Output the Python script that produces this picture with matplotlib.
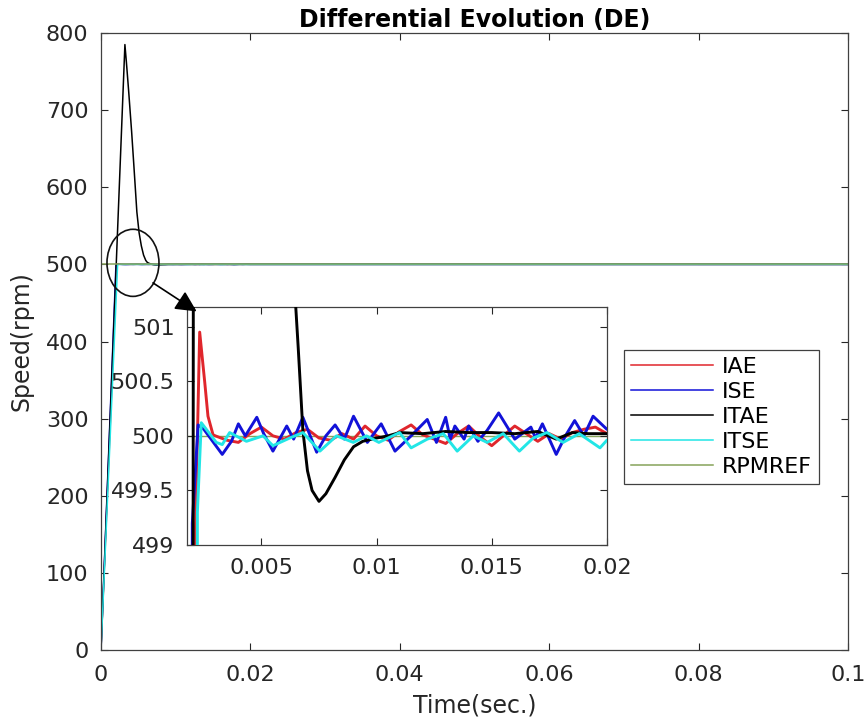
import matplotlib
matplotlib.use("Agg")
import matplotlib.pyplot as plt
from matplotlib.patches import Ellipse, FancyArrowPatch

plt.rcParams['font.family'] = ['DejaVu Sans']

# ---------------- data ----------------
iae_t = [0, 0.00212, 0.00232, 0.00254, 0.00268, 0.0029,
         0.0030, 0.0035, 0.0040, 0.0045, 0.0050, 0.0055, 0.0060, 0.0065, 0.0070,
         0.0075, 0.0080, 0.0085, 0.0090, 0.0095, 0.0100, 0.0105, 0.0110, 0.0115,
         0.0120, 0.0125, 0.0130, 0.0135, 0.0140, 0.0145, 0.0150, 0.0155, 0.0160,
         0.0165, 0.0170, 0.0175, 0.0180, 0.0185, 0.0190, 0.0195, 0.0200, 0.1]
iae_v = [0, 499.0, 500.95, 500.49, 500.18, 500.01,
         500.00, 499.96, 499.94, 500.02, 500.08, 500.00, 499.97, 500.03, 500.06,
         499.98, 499.96, 500.02, 499.97, 500.09, 500.00, 499.96, 500.04, 500.10,
         500.01, 499.97, 499.93, 500.02, 500.09, 499.99, 499.91, 500.00, 500.09,
         500.02, 499.95, 500.02, 499.97, 500.03, 500.06, 500.08, 500.02, 500.0]

ise_t = [0, 0.00200, 0.00225, 0.0025, 0.0033, 0.0037, 0.0040, 0.0043, 0.0048,
         0.0051, 0.0055, 0.0061, 0.0064, 0.0068, 0.0074, 0.0078, 0.0082, 0.0086,
         0.0090, 0.0096, 0.0102, 0.0108, 0.0115, 0.0122, 0.0126, 0.0130, 0.0132,
         0.0134, 0.0138, 0.0140, 0.0144, 0.0148, 0.0153, 0.0160, 0.0167, 0.0169,
         0.0172, 0.0178, 0.0182, 0.0186, 0.0190, 0.0194, 0.0200, 0.1]
ise_v = [0, 499.2, 500.10, 500.06, 499.83, 499.95, 500.11, 500.00, 500.17,
         500.02, 499.86, 500.09, 499.97, 500.17, 499.85, 500.00, 500.10, 499.97,
         500.18, 499.94, 500.11, 499.86, 500.00, 500.15, 499.94, 500.17, 499.97,
         500.09, 499.97, 500.09, 499.95, 500.05, 500.21, 499.97, 500.08, 499.98,
         500.11, 499.83, 500.00, 500.14, 500.00, 500.18, 500.06, 500.0]

itae_t = [0, 0.0032, 0.0034, 0.0037, 0.0041, 0.0044, 0.0048, 0.0051, 0.0054,
          0.0057, 0.0060, 0.0062, 0.0064, 0.0066, 0.0068, 0.0070, 0.0072, 0.0075,
          0.0078, 0.0082, 0.0086, 0.0090, 0.0094, 0.0100, 0.0105, 0.0110, 0.0120,
          0.0130, 0.0140, 0.0150, 0.0160, 0.0170, 0.0178, 0.0185, 0.0192, 0.0200, 0.1]
itae_v = [0, 785, 762, 725, 672, 628, 568, 541, 524,
          512, 505, 502.6, 501.5, 500.8, 500.05, 499.68, 499.50, 499.40,
          499.47, 499.62, 499.78, 499.90, 499.95, 499.98, 500.00, 500.03, 500.02,
          500.04, 500.03, 500.03, 500.02, 500.04, 499.97, 500.03, 500.02, 500.02, 500.0]

itse_t = [0, 0.00222, 0.00239, 0.00304, 0.0033, 0.00362, 0.00435, 0.00507,
          0.0055, 0.00623, 0.0068, 0.00754, 0.00826, 0.00899, 0.00956, 0.0101,
          0.0110, 0.0115, 0.0122, 0.0129, 0.0135, 0.0142, 0.0148, 0.0155, 0.0162,
          0.0168, 0.0174, 0.0181, 0.0188, 0.0197, 0.0200, 0.1]
itse_v = [0, 499.3, 500.12, 499.94, 499.92, 500.03, 499.95, 500.00,
          499.91, 499.98, 500.03, 499.86, 500.00, 499.94, 500.00, 499.94,
          500.03, 499.89, 499.97, 500.02, 499.86, 500.00, 499.94, 500.02, 499.86,
          499.98, 500.03, 499.94, 500.02, 499.89, 499.96, 500.0]

ref_t = [0, 0.1]
ref_v = [500, 500]

labels = ['IAE', 'ISE', 'ITAE', 'ITSE', 'RPMREF']
colors = ['#e0262c', '#1212d8', '#000000', '#22e6e6', '#86a35a']

main_xticks = [0, 0.02, 0.04, 0.06, 0.08, 0.1]
main_xticklabels = ['0', '0.02', '0.04', '0.06', '0.08', '0.1']
main_yticks = [0, 100, 200, 300, 400, 500, 600, 700, 800]
main_yticklabels = ['0', '100', '200', '300', '400', '500', '600', '700', '800']
in_xticks = [0.005, 0.01, 0.015, 0.02]
in_xticklabels = ['0.005', '0.01', '0.015', '0.02']
in_yticks = [499, 499.5, 500, 500.5, 501]
in_yticklabels = ['499', '499.5', '500', '500.5', '501']

series = [(iae_t, iae_v), (ise_t, ise_v), (itae_t, itae_v), (itse_t, itse_v), (ref_t, ref_v)]

# ---------------- figure ----------------
fig = plt.figure(figsize=(8.67, 7.27), dpi=100)
axcol = '#262626'

ax = fig.add_axes([0.1165, 0.1059, 0.8615, 0.8487])
handles = []
for (t, v), lab, c in zip(series, labels, colors):
    h, = ax.plot(t, v, color=c, lw=1.1, label=lab)
    handles.append(h)
ax.set_xlim(0, 0.1)
ax.set_ylim(0, 800)
ax.set_xticks(main_xticks)
ax.set_xticklabels(main_xticklabels)
ax.set_yticks(main_yticks)
ax.set_yticklabels(main_yticklabels)
ax.tick_params(direction='in', top=True, right=True, length=5, width=0.8,
               labelsize=16, colors=axcol, pad=9)
ax.tick_params(axis='x', pad=11)
for s in ax.spines.values():
    s.set_color('#404040')
    s.set_linewidth(0.9)
ax.set_xlabel('Time(sec.)', fontsize=17, color=axcol, labelpad=6)
ax.set_ylabel('Speed(rpm)', fontsize=17, color=axcol, labelpad=9)
ax.set_title('Differential Evolution (DE)', fontsize=17, fontweight='bold', pad=4)

ax.add_patch(Ellipse((0.00428, 502), 0.00696, 87, fill=False, ec='#111111', lw=1.2, zorder=6))

# inset
axin = fig.add_axes([0.2157, 0.2503, 0.4843, 0.3274])
zord = [3, 3, 4, 5, 1]
for (t, v), c, z in zip(series, colors, zord):
    axin.plot(t, v, color=c, lw=2.1 if c != colors[4] else 1.0, zorder=z)
axin.set_xlim(0.00177, 0.02)
axin.set_ylim(499, 501.18)
axin.set_xticks(in_xticks)
axin.set_xticklabels(in_xticklabels)
axin.set_yticks(in_yticks)
axin.set_yticklabels(in_yticklabels)
axin.tick_params(direction='in', top=True, right=True, length=5, width=0.8,
                 labelsize=16, colors=axcol, pad=9)
for s in axin.spines.values():
    s.set_color('#404040')
    s.set_linewidth(0.9)

arrow = FancyArrowPatch((0.00696, 476), (0.0128, 439), arrowstyle='-|>',
                        mutation_scale=32, transform=ax.transData, color='k',
                        lw=1.2, shrinkA=0, shrinkB=0, zorder=10)
fig.add_artist(arrow)

leg = fig.legend(handles=handles, labels=labels, loc='upper left',
                 bbox_to_anchor=(624 / 867, (727 - 350) / 727), fontsize=16,
                 fancybox=False, edgecolor='#404040', framealpha=1,
                 handlelength=3.7, labelspacing=0.22, borderpad=0.32,
                 handletextpad=0.4, borderaxespad=0)
leg.get_frame().set_linewidth(0.9)

fig.savefig('out.png', dpi=100)
